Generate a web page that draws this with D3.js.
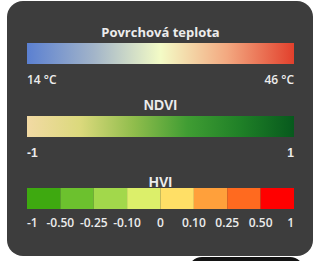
<!DOCTYPE html>
<html lang="cs">
<head>
<meta charset="UTF-8">
<title>Legenda</title>
<style>
  html, body { margin: 0; padding: 0; background: #ffffff; }
  svg { display: block; }
</style>
</head>
<body>
<div id="legend"></div>
<script src="https://d3js.org/d3.v7.min.js"></script>
<script>
// Povrchova teplota
const tempTitle = "Povrchová teplota";
const tempRange = [14, 46];
const tempLabels = ["14 °C", "46 °C"];
const tempColors = ["#5b80d1", "#a2b4c9", "#f3fbc6", "#f3a880", "#e2402c"];

// NDVI
const ndviTitle = "NDVI";
const ndviRange = [-1, 1];
const ndviLabels = ["-1", "1"];
const ndviColors = ["#f2daa4", "#dbd97c", "#90bd4c", "#409d33", "#1f8027", "#07591d"];

// HVI
const hviTitle = "HVI";
const hviBreaks = [-1, -0.5, -0.25, -0.1, 0, 0.1, 0.25, 0.5, 1];
const hviLabels = ["-1", "-0.50", "-0.25", "-0.10", "0", "0.10", "0.25", "0.50", "1"];
const hviColors = ["#3ea910", "#6cc12e", "#a2d84b", "#dcef6a", "#ffdf66", "#ffa03b", "#ff6a1f", "#ff0000"];

const W = 321, H = 261;
const svg = d3.select("#legend").append("svg")
  .attr("width", W).attr("height", H);

// other widget peeking in at the bottom
svg.append("rect")
  .attr("x", 188).attr("y", 257).attr("width", 116).attr("height", 40)
  .attr("rx", 14).attr("fill", "#141414");

// panel
svg.append("rect")
  .attr("x", 7).attr("y", 1).attr("width", 306).attr("height", 255)
  .attr("rx", 16).attr("fill", "#3d3d3d");

const x0 = 27, x1 = 294, cx = (x0 + x1) / 2;
const textCol = "#ececec";
const defs = svg.append("defs");

function gradient(id, colors) {
  const g = defs.append("linearGradient").attr("id", id)
    .attr("x1", "0%").attr("x2", "100%").attr("y1", "0%").attr("y2", "0%");
  const off = d3.scaleLinear().domain([0, colors.length - 1]).range([0, 100]);
  g.selectAll("stop").data(colors).join("stop")
    .attr("offset", (d, i) => off(i) + "%")
    .attr("stop-color", d => d);
}

function title(txt, y, font, size) {
  svg.append("text")
    .attr("x", cx).attr("y", y)
    .attr("text-anchor", "middle")
    .attr("fill", textCol)
    .style("font-family", font)
    .style("font-weight", "bold")
    .style("font-size", size + "px")
    .text(txt);
}

function rampBlock(id, colors, range, labels, yBar, yLab, font) {
  gradient(id, colors);
  const x = d3.scaleLinear().domain(range).range([x0, x1]);
  svg.append("rect")
    .attr("x", x(range[0])).attr("y", yBar)
    .attr("width", x(range[1]) - x(range[0])).attr("height", 21)
    .attr("fill", `url(#${id})`);
  svg.selectAll(null).data(range).join("text")
    .attr("x", d => x(d))
    .attr("y", yLab)
    .attr("text-anchor", (d, i) => i === 0 ? "start" : "end")
    .attr("fill", textCol)
    .style("font-family", font)
    .style("font-weight", "600")
    .style("font-size", "12px")
    .text((d, i) => labels[i]);
}

title(tempTitle, 37, "'Open Sans', sans-serif", 13);
rampBlock("tempGrad", tempColors, tempRange, tempLabels, 43, 84, "'Open Sans', sans-serif");

title(ndviTitle, 110, "'Liberation Sans', Arial, sans-serif", 14);
rampBlock("ndviGrad", ndviColors, ndviRange, ndviLabels, 116, 157, "'Liberation Sans', Arial, sans-serif");

title(hviTitle, 187, "'Liberation Sans', Arial, sans-serif", 14);

// HVI classes, equal width
const xh = d3.scaleLinear().domain([0, hviColors.length]).range([x0, x1]);
svg.selectAll(".hvi").data(hviColors).join("rect")
  .attr("class", "hvi")
  .attr("x", (d, i) => xh(i)).attr("y", 188)
  .attr("width", (d, i) => xh(i + 1) - xh(i)).attr("height", 21)
  .attr("fill", d => d);

svg.selectAll(".hviLab").data(hviBreaks).join("text")
  .attr("class", "hviLab")
  .attr("x", (d, i) => xh(i))
  .attr("y", 227)
  .attr("text-anchor", (d, i) => i === 0 ? "start" : i === hviBreaks.length - 1 ? "end" : "middle")
  .attr("fill", textCol)
  .style("font-family", "'Open Sans', sans-serif")
  .style("font-weight", "600")
  .style("font-size", "12px")
  .text((d, i) => hviLabels[i]);
</script>
</body>
</html>
